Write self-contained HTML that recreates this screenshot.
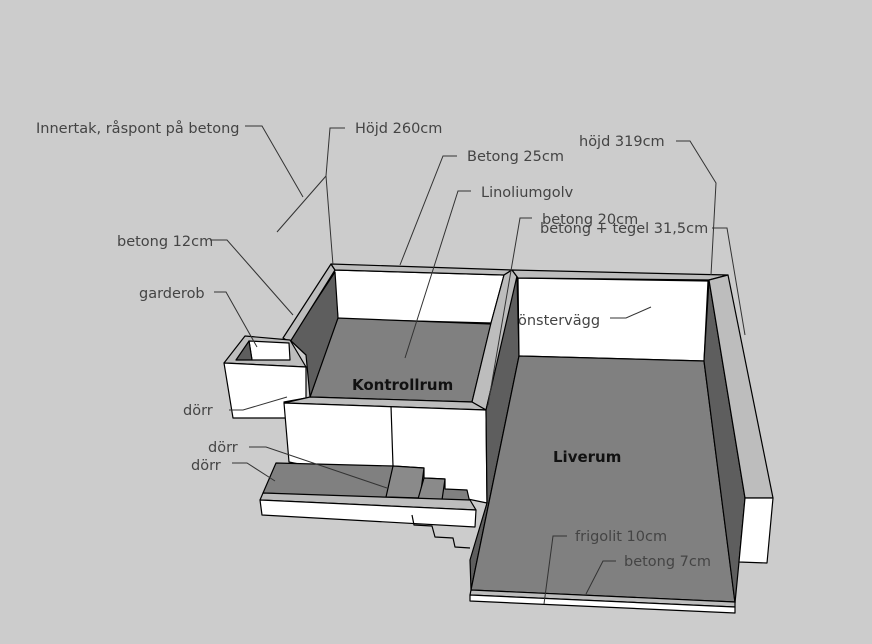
<!DOCTYPE html>
<html><head><meta charset="utf-8"><style>
html,body{margin:0;padding:0;background:#cccccc;}
svg{display:block;}
text{font-family:"DejaVu Sans","Liberation Sans",sans-serif;font-size:14.5px;fill:#444;}
.b{font-weight:bold;fill:#111;font-size:15px;}
</style></head><body>
<svg width="872" height="644" viewBox="0 0 872 644" xmlns="http://www.w3.org/2000/svg">
<rect width="872" height="644" fill="#cccccc"/>
<g stroke="#000" stroke-width="1.2" stroke-linejoin="round">
<polygon points="334,270 504,275 491,323 338,319" fill="#fff"/>
<polygon points="337,318 491,324 472,402 310,397" fill="#808080"/>
<polygon points="335,272 338,318 310,397 306,355 290,340" fill="#5e5e5e"/>
<polygon points="331,264 335,270 290,342 283,338" fill="#bdbdbd"/>
<polygon points="331,264 512,270 504,275 335,270" fill="#bdbdbd"/>
<polygon points="504,275 512,270 518,278 486,410 472,402 491,323" fill="#bdbdbd"/>
<polygon points="224,363 245,336 290,340 306,367" fill="#bdbdbd"/>
<polygon points="249,341 289,343 290,360 252,360" fill="#fff"/>
<polygon points="236,360 249,341 252,360" fill="#5e5e5e"/>
<polygon points="224,363 306,367 306,398 284,402 289,418 233,418" fill="#fff"/>
<polygon points="310,397 472,402 486,410 284,403" fill="#bdbdbd"/>
<polygon points="284,403 486,410 487,503 289,462" fill="#fff"/>
<line x1="391" y1="406" x2="393" y2="466"/>
<polygon points="276,463 393,466 424,468 424,478 445,479 445,489 467,490 470,503 263,493" fill="#808080"/>
<polygon points="393,466 424,468 420,498 386,497" fill="#8a8a8a"/>
<polygon points="424,478 445,479 442,500 418,499" fill="#8a8a8a"/>
<polygon points="263,493 470,500 476,510 260,500" fill="#bdbdbd"/>
<polygon points="260,500 476,510 475,527 262,515" fill="#fff"/>
<polyline points="412,515 414,525 432,526 435,537 453,538 455,547 470,548" fill="none"/>
<polygon points="486,410 517,276 519,356 471,590 470,560 487,503" fill="#5e5e5e"/>
<polygon points="518,278 708,281 704,361 519,356" fill="#fff"/>
<polygon points="512,270 728,275 709,280 518,278" fill="#bdbdbd"/>
<polygon points="519,356 704,361 735,602 471,590" fill="#808080"/>
<polygon points="709,280 745,498 739,562 735,603 704,361" fill="#5e5e5e"/>
<polygon points="709,280 728,275 773,498 745,498" fill="#bdbdbd"/>
<polygon points="745,498 773,498 767,563 739,562" fill="#fff"/>
<polygon points="471,590 735,602 735,607 470,595" fill="#bdbdbd"/>
<polygon points="470,595 735,607 735,613 470,601" fill="#fff"/>
</g>
<g stroke="#333" stroke-width="1" fill="none">
<polyline points="245,126 262,126 303,197"/>
<polyline points="345,128 330,128 326,176 333,265"/>
<line x1="277" y1="232" x2="326" y2="176"/>
<polyline points="457,156 443,156 400,265"/>
<polyline points="471,191 458,191 405,358"/>
<polyline points="532,218 520,218 488,405"/>
<polyline points="712,228 727,228 745,335"/>
<polyline points="676,141 690,141 716,183 711,275"/>
<polyline points="210,240 227,240 293,315"/>
<polyline points="214,292 226,292 257,347"/>
<polyline points="610,318 626,318 651,307"/>
<polyline points="229,410 243,410 287,397"/>
<polyline points="249,447 266,447 387,488"/>
<polyline points="232,463 247,463 275,481"/>
<polyline points="567,536 553,536 544,604"/>
<polyline points="616,561 603,561 586,594"/>
</g>
<text x="36" y="133">Innertak, råspont på betong</text>
<text x="355" y="133">Höjd 260cm</text>
<text x="467" y="161">Betong 25cm</text>
<text x="481" y="197">Linoliumgolv</text>
<text x="542" y="224">betong 20cm</text>
<text x="540" y="233">betong + tegel 31,5cm</text>
<text x="579" y="146">höjd 319cm</text>
<text x="117" y="246">betong 12cm</text>
<text x="139" y="298">garderob</text>
<text x="518" y="325">önstervägg</text>
<text x="183" y="415">dörr</text>
<text x="208" y="452">dörr</text>
<text x="191" y="470">dörr</text>
<text x="575" y="541">frigolit 10cm</text>
<text x="624" y="566">betong 7cm</text>
<text class="b" x="352" y="390">Kontrollrum</text>
<text class="b" x="553" y="462">Liverum</text>
</svg>
</body></html>
